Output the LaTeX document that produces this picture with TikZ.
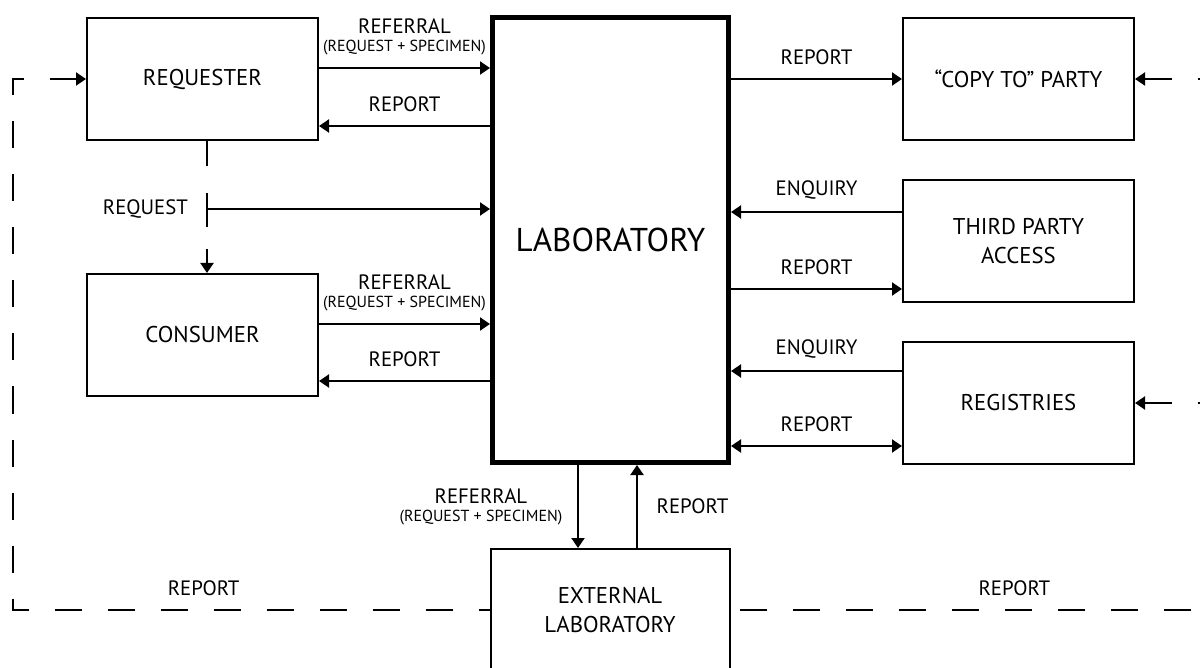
\documentclass[tikz,border=0pt]{standalone}
\usepackage{fontspec}
\setmainfont{PT Sans}
\usetikzlibrary{arrows.meta}

\begin{document}
\begin{tikzpicture}[x=0.5pt,y=-0.5pt,>={Triangle[length=5pt,width=6.5pt]},font=\fontsize{10.4}{12}\selectfont]
    \tikzset{box/.style={draw,line width=1pt,minimum width=115.5pt,minimum height=61pt,align=center,font=\fontsize{11.4}{14.5}\selectfont},
        arr/.style={->,line width=1pt},
        fb/.style={line width=1pt,dash pattern=on 13.5pt off 13pt},
        lbl/.style={midway,yshift=11pt},
        reflbl/.style={midway,yshift=15.5pt,align=center,inner sep=0pt}}
    \def \small{\fontsize{8}{9}\selectfont}
    \useasboundingbox (0,0) rectangle (1200,668);
    \node[box] (req) at (202.5,79) {REQUESTER};
    \node[box] (con) at (202.5,335) {CONSUMER};
    \node[draw,line width=2.5pt,minimum width=118pt,minimum height=222.5pt,font=\fontsize{16.5}{18}\selectfont] (lab) at (610.5,240) {LABORATORY};
    \node[box] (copy) at (1018.5,79) {“COPY TO” PARTY};
    \node[box] (third) at (1018.5,241) {THIRD PARTY\\ACCESS};
    \node[box] (reg) at (1018.5,403) {REGISTRIES};
    \node[box,minimum width=119.5pt] (ext) at (610,610) {EXTERNAL\\LABORATORY};
    % requester
    \coordinate (rq1) at ([yshift=5.5pt]req.east);
    \coordinate (rq2) at ([yshift=-23.5pt]req.east);
    \draw[arr] (rq1) -- (rq1 -| lab.west) node[reflbl] {REFERRAL\\[-3pt]{\small (REQUEST + SPECIMEN)}};
    \draw[arr] (rq2 -| lab.west) -- (rq2) node[lbl] {REPORT};
    \coordinate (rqs) at ([xshift=2.25pt]req.south);
    \draw[arr,dash pattern=on 12.5pt off 13.5pt on 17pt off 11pt] (rqs) -- (rqs |- con.north);
    \coordinate (q) at ([yshift=-34pt]rqs);
    \draw[arr] (q) -- (q -| lab.west);
    \node[left=6pt] (rqlbl) at (q) {REQUEST};
    % consumer
    \coordinate (cn1) at ([yshift=5.5pt]con.east);
    \coordinate (cn2) at ([yshift=-23pt]con.east);
    \draw[arr] (cn1) -- (cn1 -| lab.west) node[reflbl] {REFERRAL\\[-3pt]{\small (REQUEST + SPECIMEN)}};
    \draw[arr] (cn2 -| lab.west) -- (cn2) node[lbl] {REPORT};
    % right side
    \draw[arr] (copy.west -| lab.east) -- (copy.west) node[lbl] {REPORT};
    \coordinate (tp1) at ([yshift=14.5pt]third.west);
    \coordinate (tp2) at ([yshift=-24pt]third.west);
    \draw[arr] (tp1) -- (tp1 -| lab.east) node[lbl] {ENQUIRY};
    \draw[arr] (tp2 -| lab.east) -- (tp2) node[lbl] {REPORT};
    \coordinate (rg1) at ([yshift=16pt]reg.west);
    \coordinate (rg2) at ([yshift=-21.5pt]reg.west);
    \draw[arr] (rg1) -- (rg1 -| lab.east) node[lbl] {ENQUIRY};
    \draw[arr,<->] (rg2 -| lab.east) -- (rg2) node[lbl] {REPORT};
    % external laboratory
    \coordinate (xr) at ([xshift=-16.25pt]lab.south);
    \coordinate (xp) at ([xshift=13.25pt]lab.south);
    \draw[arr] (xr) -- (xr |- ext.north) node[midway,left=4pt,align=center] {REFERRAL\\[-3pt]{\small (REQUEST + SPECIMEN)}};
    \draw[arr] (xp |- ext.north) -- (xp) node[midway,right=6pt] {REPORT};
    % report loop
    \draw[fb,<-] (req.west) -- ++(-73,0) |- (ext.west) node[pos=0.7,yshift=11pt] {REPORT};
    \draw[fb,<-] (copy.east) -- ++(85,0) |- (ext.east) node[pos=0.71,yshift=11pt] {REPORT};
    \draw[fb,<-] (reg.east) -- ++(85,0);
\end{tikzpicture}
\end{document}
